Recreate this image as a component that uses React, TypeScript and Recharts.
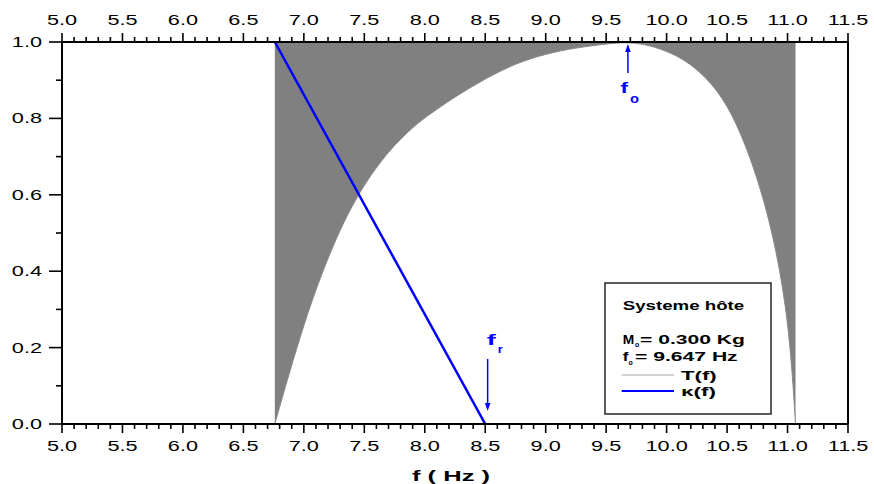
import React from 'react';
import { ComposedChart, Area, Line, XAxis, YAxis, ReferenceLine, ReferenceDot, Legend } from 'recharts';

// ---- data ----
// lower envelope of T(f); upper envelope is 1.0
const FREQ = [6.76, 6.88, 7.00, 7.12, 7.24, 7.36, 7.48, 7.60, 7.70, 7.80, 7.90, 8.00, 8.25, 8.50, 8.75, 9.00, 9.25, 9.50, 9.68, 9.86, 10.05, 10.19, 10.33, 10.47, 10.60, 10.74, 10.88, 10.99, 11.04, 11.066];
const T_MIN = [0, 0.134, 0.26, 0.37, 0.466, 0.548, 0.616, 0.672, 0.712, 0.746, 0.776, 0.802, 0.857, 0.904, 0.944, 0.969, 0.985, 0.995, 1.0, 0.992, 0.970, 0.944, 0.906, 0.851, 0.772, 0.656, 0.499, 0.307, 0.133, 0];
const T_MAX = 1.0;

// kappa(f)
const K_FREQ = [6.76, 8.5];
const K_VAL = [1.0, 0.0];

// annotations
const F_O = 9.68;
const F_R = 8.52;

// ticks
const X_MAJOR = [5.0, 5.5, 6.0, 6.5, 7.0, 7.5, 8.0, 8.5, 9.0, 9.5, 10.0, 10.5, 11.0, 11.5];
const Y_MAJOR = [0.0, 0.2, 0.4, 0.6, 0.8, 1.0];
const X_TICKS: number[] = [];
for (let i = 0; i <= 65; i++) X_TICKS.push(Math.round((5 + i * 0.1) * 10) / 10);
const Y_TICKS: number[] = [];
for (let i = 0; i <= 10; i++) Y_TICKS.push(Math.round(i) / 10);

const T_DATA = FREQ.map((f, i) => ({ f, t: [T_MIN[i], T_MAX] }));
const K_DATA = K_FREQ.map((f, i) => ({ f, k: K_VAL[i] }));

const FONT = '"Liberation Sans", Arial, Helvetica, sans-serif';
const SX = 1.55;
const BLUE = '#0000ff';

const isMajorX = (v: number) => X_MAJOR.some((m) => Math.abs(m - v) < 1e-6);
const isMajorY = (v: number) => Y_MAJOR.some((m) => Math.abs(m - v) < 1e-6);

const BottomTick = (props: any) => {
  const { x, y, payload } = props;
  const v = payload.value as number;
  const major = isMajorX(v);
  return (
    <g>
      <line x1={x} x2={x} y1={y} y2={y + (major ? 9 : 5)} stroke="#000" strokeWidth={1.6} />
      {major && (
        <text transform={`translate(${x},${y + 27}) scale(${SX},1)`} textAnchor="middle" fontFamily={FONT} fontSize={14} fill="#000">
          {v.toFixed(1)}
        </text>
      )}
    </g>
  );
};

const TopTick = (props: any) => {
  const { x, y, payload } = props;
  const v = payload.value as number;
  const major = isMajorX(v);
  return (
    <g>
      <line x1={x} x2={x} y1={y} y2={y - (major ? 9 : 5)} stroke="#000" strokeWidth={1.6} />
      {major && (
        <text transform={`translate(${x},${y - 17}) scale(${SX},1)`} textAnchor="middle" fontFamily={FONT} fontSize={14} fill="#000">
          {v.toFixed(1)}
        </text>
      )}
    </g>
  );
};

const LeftTick = (props: any) => {
  const { x, y, payload } = props;
  const v = payload.value as number;
  const major = isMajorY(v);
  return (
    <g>
      <line x1={x} x2={x - (major ? 13 : 6)} y1={y} y2={y} stroke="#000" strokeWidth={1.6} />
      {major && (
        <text transform={`translate(${x - 20},${y + 5}) scale(${SX},1)`} textAnchor="end" fontFamily={FONT} fontSize={14} fill="#000">
          {v.toFixed(1)}
        </text>
      )}
    </g>
  );
};

const XLabel = (props: any) => {
  const vb = props.viewBox || { x: 62, y: 424, width: 786, height: 60 };
  return (
    <text x={vb.x + vb.width / 2 - 4} y={vb.y + 56.5} textAnchor="middle" fontFamily={FONT} fontWeight="bold" fontSize={15} fill="#000" textLength={78} lengthAdjust="spacingAndGlyphs">
      f ( Hz )
    </text>
  );
};

const FoMarker = (props: any) => {
  const { cx, cy } = props;
  return (
    <g>
      <line x1={cx} x2={cx} y1={cy + 31} y2={cy + 9} stroke={BLUE} strokeWidth={1.5} />
      <polygon points={`${cx - 2.8},${cy + 10} ${cx + 2.8},${cy + 10} ${cx},${cy + 2}`} fill={BLUE} />
      <text x={cx - 7.5} y={cy + 51} fontFamily={FONT} fontWeight="bold" fontSize={15} fill={BLUE} textLength={7.5} lengthAdjust="spacingAndGlyphs">f</text>
      <text x={cx + 2} y={cy + 61} fontFamily={FONT} fontWeight="bold" fontSize={12} fill={BLUE} textLength={9} lengthAdjust="spacingAndGlyphs">o</text>
    </g>
  );
};

const FrMarker = (props: any) => {
  const { cx, cy } = props;
  return (
    <g>
      <line x1={cx} x2={cx} y1={cy - 65} y2={cy - 20} stroke={BLUE} strokeWidth={1.5} />
      <polygon points={`${cx - 2.8},${cy - 21} ${cx + 2.8},${cy - 21} ${cx},${cy - 13}`} fill={BLUE} />
      <text x={cx - 1} y={cy - 79} fontFamily={FONT} fontWeight="bold" fontSize={15} fill={BLUE} textLength={9} lengthAdjust="spacingAndGlyphs">f</text>
      <text x={cx + 10} y={cy - 71} fontFamily={FONT} fontWeight="bold" fontSize={10} fill={BLUE} textLength={5} lengthAdjust="spacingAndGlyphs">r</text>
    </g>
  );
};

const LegendBox = () => (
  <svg width={170} height={134} style={{ display: 'block', overflow: 'visible' }}>
    <rect x={1} y={1} width={166} height={131} fill="#fff" stroke="#333" strokeWidth={1.6} />
    <text x={18.7} y={28} fontFamily={FONT} fontWeight="bold" fontSize={12} fill="#000" textLength={121.5} lengthAdjust="spacingAndGlyphs">Systeme hôte</text>
    <text x={18.7} y={62} fontFamily={FONT} fontWeight="bold" fontSize={13} fill="#000" textLength={11.5} lengthAdjust="spacingAndGlyphs">M</text>
    <text x={31} y={65} fontFamily={FONT} fontWeight="bold" fontSize={7} fill="#000">o</text>
    <text x={36} y={62} fontFamily={FONT} fontWeight="bold" fontSize={13} fill="#000" textLength={105} lengthAdjust="spacingAndGlyphs">= 0.300 Kg</text>
    <text x={18.7} y={79} fontFamily={FONT} fontWeight="bold" fontSize={13} fill="#000" textLength={5.6} lengthAdjust="spacingAndGlyphs">f</text>
    <text x={24.5} y={82.5} fontFamily={FONT} fontWeight="bold" fontSize={7} fill="#000">o</text>
    <text x={31} y={79} fontFamily={FONT} fontWeight="bold" fontSize={13} fill="#000" textLength={102.7} lengthAdjust="spacingAndGlyphs">= 9.647 Hz</text>
    <line x1={17.7} x2={70} y1={93} y2={93} stroke="#c4c4c4" strokeWidth={1.3} />
    <text x={77} y={98} fontFamily={FONT} fontWeight="bold" fontSize={12.5} fill="#000" textLength={35.7} lengthAdjust="spacingAndGlyphs">T(f)</text>
    <line x1={17.7} x2={70} y1={109} y2={109} stroke={BLUE} strokeWidth={2} />
    <text x={77} y={113.5} fontFamily={FONT} fontWeight="bold" fontSize={12.5} fill="#000" textLength={35} lengthAdjust="spacingAndGlyphs">κ(f)</text>
  </svg>
);

export default function App() {
  return (
    <div style={{ position: 'absolute', left: 0, top: 0, width: 874, height: 484, background: '#fff' }}>
      <ComposedChart width={874} height={484} data={T_DATA} margin={{ top: 0, right: 26, bottom: 0, left: 0 }}>
        <XAxis
          xAxisId="b"
          dataKey="f"
          type="number"
          domain={[5, 11.5]}
          allowDataOverflow
          ticks={X_TICKS}
          interval={0}
          tick={BottomTick}
          tickLine={false}
          tickSize={0}
          tickMargin={0}
          axisLine={{ stroke: '#000', strokeWidth: 2 }}
          height={60}
          label={{ value: 'f ( Hz )', position: 'insideBottom', content: XLabel }}
        />
        <XAxis
          xAxisId="t"
          dataKey="f"
          orientation="top"
          type="number"
          domain={[5, 11.5]}
          allowDataOverflow
          ticks={X_TICKS}
          interval={0}
          tick={TopTick}
          tickLine={false}
          tickSize={0}
          tickMargin={0}
          axisLine={{ stroke: '#000', strokeWidth: 2 }}
          height={42}
        />
        <YAxis
          yAxisId="l"
          type="number"
          domain={[0, 1]}
          allowDataOverflow
          ticks={Y_TICKS}
          interval={0}
          tick={LeftTick}
          tickLine={false}
          tickSize={0}
          tickMargin={0}
          axisLine={{ stroke: '#000', strokeWidth: 2 }}
          width={62}
        />
        <Area
          xAxisId="b"
          yAxisId="l"
          dataKey="t"
          type="basis"
          fill="#808080"
          fillOpacity={1}
          stroke="#8a8a8a"
          strokeWidth={1}
          dot={false}
          activeDot={false}
          isAnimationActive={false}
        />
        <Line
          xAxisId="b"
          yAxisId="l"
          data={K_DATA}
          dataKey="k"
          type="linear"
          stroke={BLUE}
          strokeWidth={2.5}
          dot={false}
          activeDot={false}
          isAnimationActive={false}
        />
        <ReferenceLine xAxisId="b" yAxisId="l" x={11.5} stroke="#000" strokeWidth={2} />
        <ReferenceDot xAxisId="b" yAxisId="l" x={F_O} y={1.0} r={0} shape={FoMarker} ifOverflow="visible" />
        <ReferenceDot xAxisId="b" yAxisId="l" x={F_R} y={0} r={0} shape={FrMarker} ifOverflow="visible" />
        <Legend
          layout="vertical"
          align="center"
          verticalAlign="middle"
          content={LegendBox}
          wrapperStyle={{ position: 'absolute', left: 604, top: 282, width: 170, height: 134 }}
        />
      </ComposedChart>
    </div>
  );
}
